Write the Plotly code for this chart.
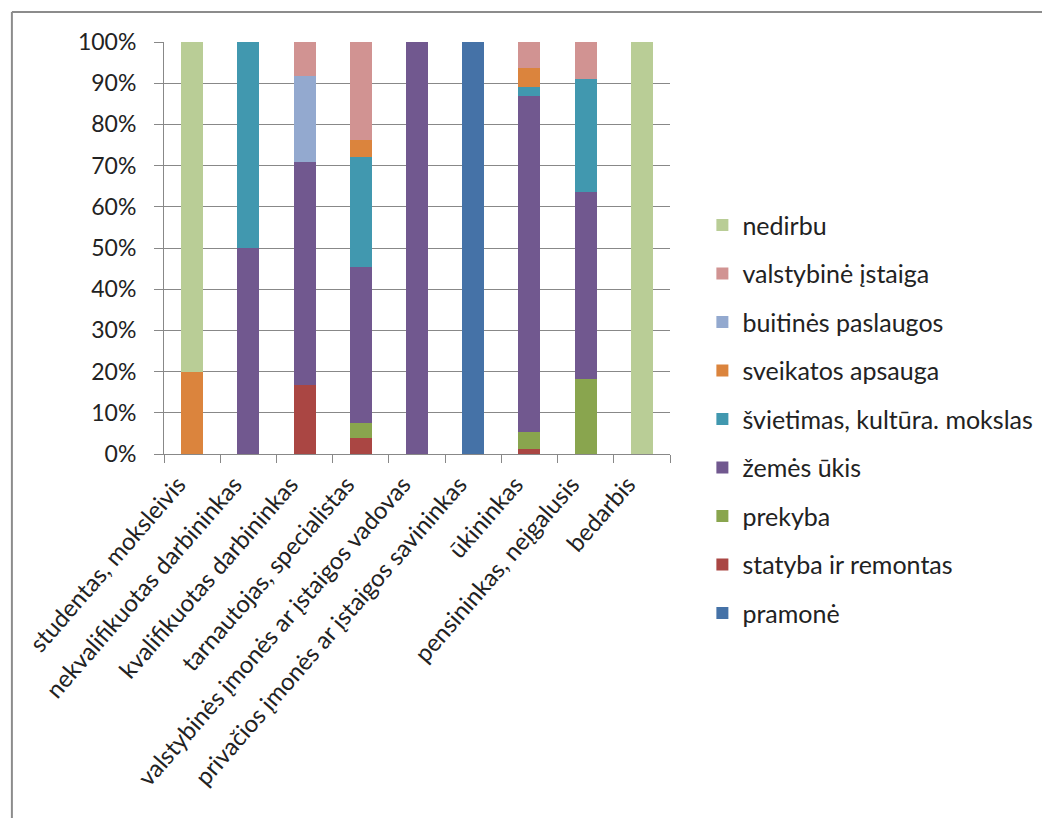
import plotly.graph_objects as go

# categories (x axis)
categories = [
    "studentas, moksleivis",
    "nekvalifikuotas darbininkas",
    "kvalifikuotas darbininkas",
    "tarnautojas, specialistas",
    "valstybinės įmonės ar įstaigos vadovas",
    "privačios įmonės ar įstaigos savininkas",
    "ūkininkas",
    "pensininkas, neįgalusis",
    "bedarbis",
]

# series values in %, bottom of stack first
pramone = [0, 0, 0, 0, 0, 100, 0, 0, 0]
statyba = [0, 0, 16.7, 3.9, 0, 0, 1.1, 0, 0]
prekyba = [0, 0, 0, 3.6, 0, 0, 4.3, 18.2, 0]
zemes_ukis = [0, 50, 54.1, 37.8, 100, 0, 81.4, 45.4, 0]
svietimas = [0, 50, 0, 26.8, 0, 0, 2.4, 27.3, 0]
sveikatos = [20, 0, 0, 4.0, 0, 0, 4.4, 0, 0]
buitines = [0, 0, 20.9, 0, 0, 0, 0, 0, 0]
valstybine = [0, 0, 8.3, 23.9, 0, 0, 6.4, 9.1, 0]
nedirbu = [80, 0, 0, 0, 0, 0, 0, 0, 100]

series = [
    ("pramonė", pramone, "#4572A7"),
    ("statyba ir remontas", statyba, "#AA4643"),
    ("prekyba", prekyba, "#89A54E"),
    ("žemės ūkis", zemes_ukis, "#71588F"),
    ("švietimas, kultūra. mokslas", svietimas, "#4198AF"),
    ("sveikatos apsauga", sveikatos, "#DB843D"),
    ("buitinės paslaugos", buitines, "#93A9CF"),
    ("valstybinė įstaiga", valstybine, "#D19392"),
    ("nedirbu", nedirbu, "#B9CD96"),
]

FONT = "Lato, 'Open Sans', sans-serif"
GRID = "#888888"
TXT = "#222222"

fig = go.Figure()
n = len(series)
for i, (name, vals, color) in enumerate(series):
    fig.add_trace(go.Bar(
        x=categories,
        y=vals,
        name=name,
        legendgroup=name,
        legendrank=n - i,  # top of stack first in legend
        marker=dict(color=color, line=dict(width=0)),
    ))

# page body has an 8px margin, so the figure is a bit smaller than the window
fig.update_layout(
    barmode="stack",
    bargap=0.61,
    width=1042,
    height=810,
    margin=dict(l=156, r=367, t=34, b=364),
    paper_bgcolor="white",
    plot_bgcolor="white",
    font=dict(family=FONT, size=23, color=TXT),
    legend=dict(
        traceorder="grouped",
        x=1.064,
        xanchor="left",
        y=0.611,
        yanchor="top",
        tracegroupgap=13,
        itemwidth=30,
        maxheight=700,
        font=dict(family=FONT, size=25, color=TXT),
    ),
    shapes=[
        dict(type="line", xref="paper", yref="paper",
             x0=-0.3006, x1=1.75, y0=1.0728, y1=1.0728,
             line=dict(color="#8c8c8c", width=2)),
        dict(type="line", xref="paper", yref="paper",
             x0=-0.3006, x1=-0.3006, y0=1.0728, y1=-0.9,
             line=dict(color="#8c8c8c", width=2)),
    ],
)

fig.update_yaxes(
    range=[0, 100],
    tickvals=[0, 10, 20, 30, 40, 50, 60, 70, 80, 90, 100],
    ticktext=[f"{v}%" for v in range(0, 101, 10)],
    showgrid=True,
    gridcolor=GRID,
    gridwidth=1,
    showline=True,
    linecolor=GRID,
    ticks="outside",
    ticklen=9,
    tickcolor=GRID,
    ticklabelstandoff=13,
    zeroline=False,
)

fig.update_xaxes(
    tickangle=-49,
    tickfont=dict(size=24),
    showline=True,
    linecolor=GRID,
    ticks="outside",
    tickson="boundaries",
    ticklen=8,
    tickcolor=GRID,
    ticklabelstandoff=6,
    ticklabelshift=-14,
    showgrid=False,
)

fig.write_html("out.html")
